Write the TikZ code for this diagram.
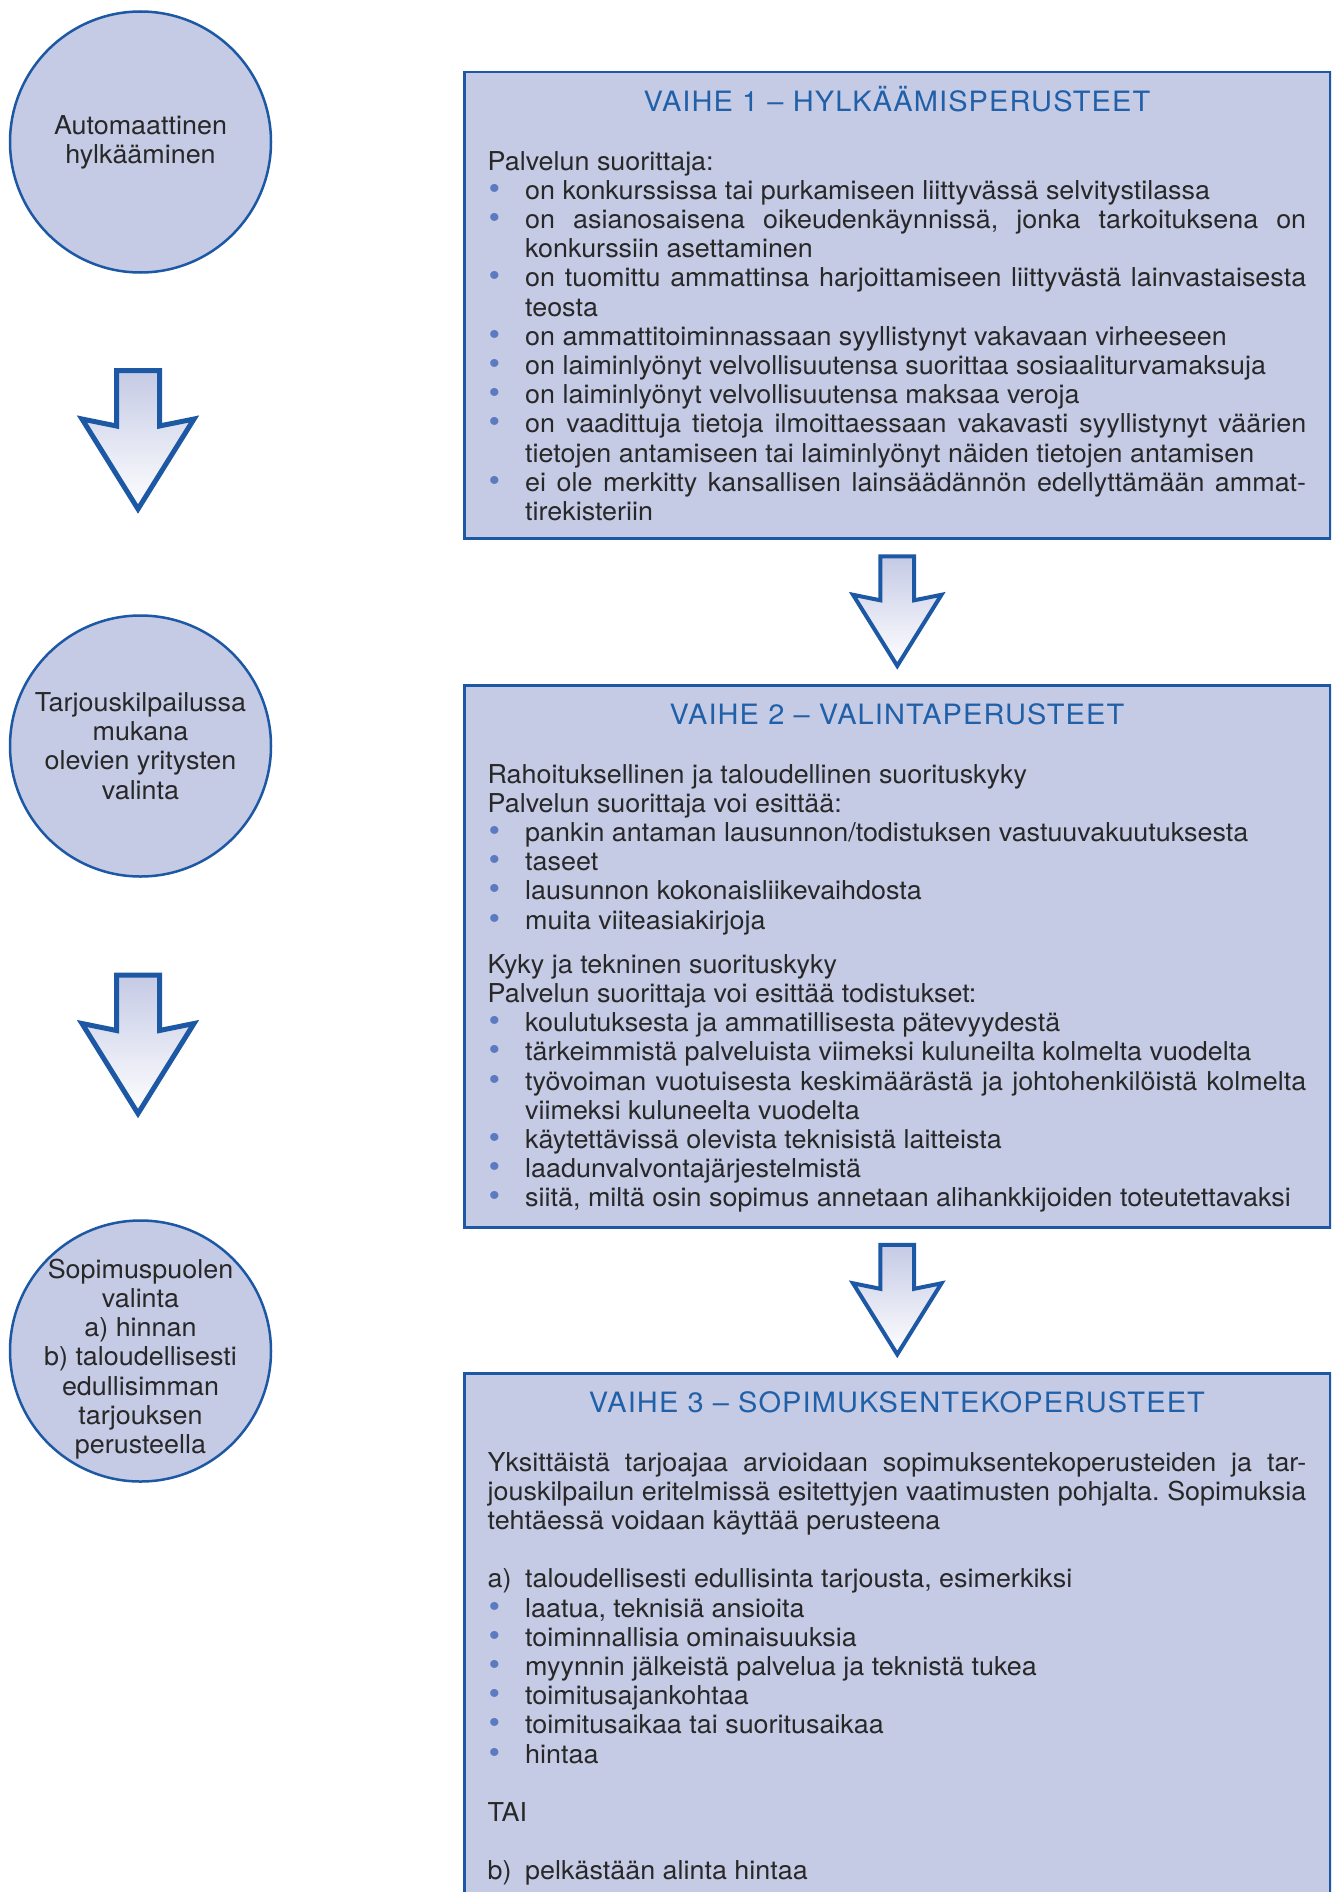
\documentclass[tikz,border=0pt]{standalone}
\usepackage{fontspec}
\setmainfont[FakeStretch=1.035]{TeX Gyre Heros}
\usetikzlibrary{calc}

\definecolor{boxfill}{RGB}{197,202,229}
\definecolor{boxline}{RGB}{28,88,164}
\definecolor{titleblue}{RGB}{32,96,168}
\definecolor{dotblue}{RGB}{92,122,192}
\definecolor{textgray}{RGB}{40,40,40}

% hanging item with a label in front
\newcommand\bitem[1]{\par\hangindent=37.5pt\hangafter=1\noindent\makebox[37.5pt][l]{#1}\ignorespaces}
\newcommand\bul{\bitem{\hspace{1pt}\textcolor{dotblue}{\fontsize{32}{32}\selectfont\textbullet}}}
\newcommand\vaihe[1]{{\centering\fontsize{28}{29.2}\selectfont\color{titleblue}\addfontfeature{LetterSpace=4}#1\par}\vspace{29.2pt}}

\begin{document}
\begin{tikzpicture}[x=1pt,y=-1pt,
  every node/.style={text=textgray},
  phase/.style={circle,draw=boxline,fill=boxfill,line width=2.5pt,minimum size=261pt,inner sep=0pt},
  phasetext/.style={align=center,inner sep=0pt,font=\fontsize{26}{29.2}\selectfont},
  stage/.style={rectangle,draw=boxline,fill=boxfill,line width=2.5pt,minimum width=866pt,inner sep=0pt,anchor=north west},
  body/.style={anchor=base west,inner sep=0pt,text width=818.5pt,align=justify,font=\fontsize{26}{29.2}\selectfont,
    execute at begin node={\parindent=0pt\tolerance=10000\hyphenpenalty=10000\frenchspacing}},
  pics/bigarrow/.style={code={
    \draw[line width=#1,draw=boxline,line join=miter,top color=boxfill,bottom color=white]
      (-21.5,-70)--(21.5,-70)--(21.5,-14.5)--(56,-21.5)--(0,68.5)--(-56,-21.5)--(-21.5,-14.5)--cycle;}}
]
\useasboundingbox (0,0) rectangle (1331,1892);
\clip (0,0) rectangle (1331,1892);

% left column
\node[phase,label={[phasetext]center:Automaattinen\\hylkääminen}] (c1) at (140.5,142) {};
\node[phase,label={[phasetext]center:Tarjouskilpailussa\\mukana\\olevien yritysten\\valinta}] (c2) at (140.5,746) {};
\node[phase,label={[phasetext,yshift=-8pt]center:Sopimuspuolen\\valinta\\a) hinnan\\b) taloudellisesti\\edullisimman\\tarjouksen\\perusteella}] (c3) at (140.5,1351) {};

\pic at ($(c1.south)!0.5!(c2.north)+(-2.5,-3.5)$) {bigarrow=5pt};
\pic at ($(c2.south)!0.5!(c3.north)+(-2.5,-3.5)$) {bigarrow=5pt};

% right column
\node[stage,minimum height=466pt] (b1) at (463,71) {};
\node[stage,minimum height=542pt] (b2) at (463,684) {};
\node[stage,minimum height=560pt] (b3) at (463,1372) {};

\pic[scale=0.79] at ($(b1.south)!0.5!(b2.north)$) {bigarrow=4pt};
\pic[scale=0.79] at ($(b2.south)!0.5!(b3.north)$) {bigarrow=4pt};

\node[body] (t1) at ($(b1.north west)+(24.5,40.7)$) {%
\vaihe{VAIHE 1 – HYLKÄÄMISPERUSTEET}
Palvelun suorittaja:
\bul on konkurssissa tai purkamiseen liittyvässä selvitystilassa
\bul on asianosaisena oikeudenkäynnissä, jonka tarkoituksena on\linebreak konkurssiin asettaminen
\bul on tuomittu ammattinsa harjoittamiseen liittyvästä lainvastaisesta\linebreak teosta
\bul on ammattitoiminnassaan syyllistynyt vakavaan virheeseen
\bul on laiminlyönyt velvollisuutensa suorittaa sosiaaliturvamaksuja
\bul on laiminlyönyt velvollisuutensa maksaa veroja
\bul on vaadittuja tietoja ilmoittaessaan vakavasti syyllistynyt väärien\linebreak tietojen antamiseen tai laiminlyönyt näiden tietojen antamisen
\bul ei ole merkitty kansallisen lainsäädännön edellyttämään ammat-\linebreak tirekisteriin\par};

\node[body] (t2) at ($(b2.north west)+(24.5,40.7)$) {%
\vaihe{VAIHE 2 – VALINTAPERUSTEET}
Rahoituksellinen ja taloudellinen suorituskyky\par
Palvelun suorittaja voi esittää:
\bul pankin antaman lausunnon/todistuksen vastuuvakuutuksesta
\bul taseet
\bul lausunnon kokonaisliikevaihdosta
\bul muita viiteasiakirjoja\par
\vspace{15pt}
Kyky ja tekninen suorituskyky\par
Palvelun suorittaja voi esittää todistukset:
\bul koulutuksesta ja ammatillisesta pätevyydestä
\bul tärkeimmistä palveluista viimeksi kuluneilta kolmelta vuodelta
\bul työvoiman vuotuisesta keskimäärästä ja johtohenkilöistä kolmelta\linebreak viimeksi kuluneelta vuodelta
\bul käytettävissä olevista teknisistä laitteista
\bul laadunvalvontajärjestelmistä
\bul siitä, miltä osin sopimus annetaan alihankkijoiden toteutettavaksi\par};

\node[body] (t3) at ($(b3.north west)+(24.5,40.7)$) {%
\vaihe{VAIHE 3 – SOPIMUKSENTEKOPERUSTEET}
Yksittäistä tarjoajaa arvioidaan sopimuksentekoperusteiden ja tar-\linebreak jouskilpailun eritelmissä esitettyjen vaatimusten pohjalta. Sopimuksia\linebreak tehtäessä voidaan käyttää perusteena\par
\vspace{29.2pt}
\bitem{a)}taloudellisesti edullisinta tarjousta, esimerkiksi
\bul laatua, teknisiä ansioita
\bul toiminnallisia ominaisuuksia
\bul myynnin jälkeistä palvelua ja teknistä tukea
\bul toimitusajankohtaa
\bul toimitusaikaa tai suoritusaikaa
\bul hintaa\par
\vspace{29.2pt}
TAI\par
\vspace{29.2pt}
\bitem{b)}pelkästään alinta hintaa\par};

\end{tikzpicture}
\end{document}
